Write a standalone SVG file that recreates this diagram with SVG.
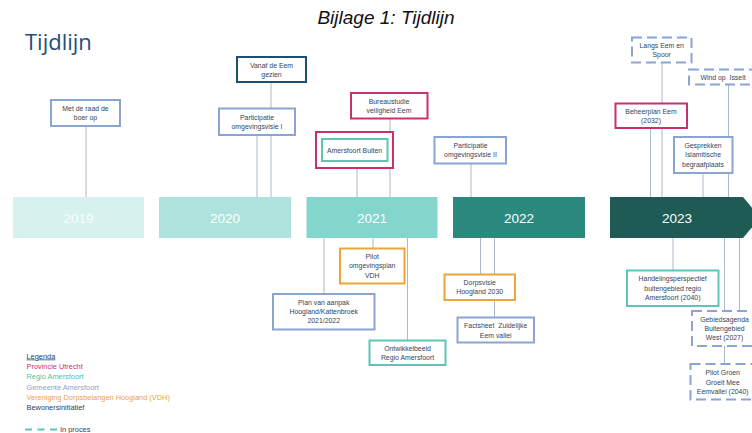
<svg xmlns="http://www.w3.org/2000/svg" width="752" height="433" viewBox="0 0 752 433">
<style>
.bg{fill:#ffffff}
.box{fill:#ffffff;stroke-width:2}
.gem{stroke:#8aa4d4}
.prov{stroke:#c8306e}
.reg{stroke:#5ec4b6}
.vdh{stroke:#eba63a}
.bew{stroke:#1f4e6e}
.dash{stroke-dasharray:10 5}
.t{font-family:"Liberation Sans",Arial,sans-serif;font-size:6.9px;fill:#33445a;text-anchor:middle}
.yr{font-family:"Liberation Sans",Arial,sans-serif;font-size:13.5px;fill:#ffffff;text-anchor:middle}
.lg{font-family:"Liberation Sans",Arial,sans-serif;font-size:7.4px}
.con line{stroke:#aab8c8;stroke-width:1}
</style>
<rect class="bg" x="0" y="0" width="752" height="433"/>
<text x="386" y="24" font-family="Liberation Sans, Arial, sans-serif" font-size="19" font-style="italic" fill="#111111" text-anchor="middle">Bijlage 1: Tijdlijn</text>
<text x="25" y="50" font-family="Open Sans, sans-serif" font-size="22" fill="#1f4e79">Tijdlijn</text>

<g id="connectors" class="con">
<line x1="86" y1="126" x2="86" y2="197"/>
<line x1="271" y1="83" x2="271" y2="197"/>
<line x1="257" y1="135" x2="257" y2="197"/>
<line x1="390" y1="118" x2="390" y2="197"/>
<line x1="357" y1="168" x2="357" y2="197"/>
<line x1="471" y1="163" x2="471" y2="197"/>
<line x1="662" y1="62" x2="662" y2="197"/>
<line x1="650.5" y1="128" x2="650.5" y2="197"/>
<line x1="728.5" y1="84" x2="728.5" y2="197"/>
<line x1="703" y1="173" x2="703" y2="197"/>
<line x1="373" y1="238" x2="373" y2="248"/>
<line x1="324" y1="238" x2="324" y2="294"/>
<line x1="407.5" y1="238" x2="407.5" y2="340"/>
<line x1="480.5" y1="238" x2="480.5" y2="274"/>
<line x1="494.5" y1="238" x2="494.5" y2="317"/>
<line x1="673" y1="238" x2="673" y2="270"/>
<line x1="724.5" y1="238" x2="724.5" y2="364"/>
<line x1="739.5" y1="238" x2="739.5" y2="311"/>
</g>

<g id="year-2019"><rect x="13" y="197" width="131" height="41" fill="#d6f1ee"/><text class="yr" x="78.5" y="222.5" fill-opacity="0.9">2019</text></g>
<g id="year-2020"><rect x="159" y="197" width="132" height="41" fill="#ade3dc"/><text class="yr" x="225" y="222.5">2020</text></g>
<g id="year-2021"><rect x="306.5" y="197" width="131" height="41" fill="#82d6cc"/><text class="yr" x="372" y="222.5">2021</text></g>
<g id="year-2022"><rect x="453" y="197" width="132" height="41" fill="#2b897e"/><text class="yr" x="519" y="222.5">2022</text></g>
<g id="year-2023"><polygon points="610,197 743,197 760,217.5 743,238 610,238" fill="#1e5b54"/><text class="yr" x="677" y="222.5">2023</text></g>

<g id="met-de-raad"><rect class="box gem" x="51" y="100" width="69" height="26"/><text class="t" x="85.5" y="110.5">Met de raad de</text><text class="t" x="85.5" y="120">boer op</text></g>
<g id="vanaf-de-eem"><rect class="box bew" x="237" y="57" width="69" height="25"/><text class="t" x="271.5" y="67.5">Vanaf de Eem</text><text class="t" x="271.5" y="76.5">gezien</text></g>
<g id="participatie-1"><rect class="box gem" x="219" y="108.5" width="76" height="26.5"/><text class="t" x="257" y="119.5">Participatie</text><text class="t" x="257" y="129">omgevingsvisie I</text></g>
<g id="bureaustudie"><rect class="box prov" x="351" y="93" width="76.5" height="25.5"/><text class="t" x="389" y="103.5">Bureaustudie</text><text class="t" x="389" y="113">veiligheid Eem</text></g>
<g id="amersfoort-buiten"><rect class="box prov" x="316" y="132" width="77" height="36"/><rect class="box reg" x="322" y="139" width="65.5" height="22"/><text class="t" x="354.5" y="152.5">Amersfoort Buiten</text></g>
<g id="participatie-2"><rect class="box gem" x="434.5" y="137" width="71.5" height="26.5"/><text class="t" x="470.5" y="148">Participatie</text><text class="t" x="470.5" y="157">omgevingsvisie II</text></g>
<g id="langs-eem"><rect class="box gem dash" x="632" y="37.5" width="59.5" height="25"/><text class="t" x="661.7" y="47.5">Langs Eem en</text><text class="t" x="661.7" y="56.5">Spoor</text></g>
<g id="wind-op-isselt"><rect class="box gem dash" x="689" y="69.5" width="68" height="15"/><text class="t" x="723" y="79.8" xml:space="preserve">Wind op  Isselt</text></g>
<g id="beheerplan-eem"><rect class="box prov" x="615.5" y="103.5" width="71.5" height="24.5"/><text class="t" x="651" y="114">Beheerplan Eem</text><text class="t" x="651" y="123">(2032)</text></g>
<g id="gesprekken"><rect class="box gem" x="674" y="137" width="58.5" height="36"/><text class="t" x="703" y="147.5">Gesprekken</text><text class="t" x="703" y="157">Islamitische</text><text class="t" x="703" y="166.5">begraafplaats</text></g>

<g id="pilot-omgevingsplan"><rect class="box vdh" x="340" y="248.5" width="64.5" height="35"/><text class="t" x="372.2" y="258.5">Pilot</text><text class="t" x="372.2" y="268">omgevingsplan</text><text class="t" x="372.2" y="277.5">VDH</text></g>
<g id="plan-van-aanpak"><rect class="box gem" x="273" y="294" width="101.5" height="35.5"/><text class="t" x="323.7" y="305">Plan van aanpak</text><text class="t" x="323.7" y="314">Hoogland/Kattenbroek</text><text class="t" x="323.7" y="323">2021/2022</text></g>
<g id="ontwikkelbeeld"><rect class="box reg" x="369.5" y="340.5" width="76" height="24.5"/><text class="t" x="407.5" y="350.8">Ontwikkelbeeld</text><text class="t" x="407.5" y="360">Regio Amersfoort</text></g>
<g id="dorpsvisie"><rect class="box vdh" x="444.5" y="274.5" width="70.5" height="25.5"/><text class="t" x="479.7" y="284.7">Dorpsvisie</text><text class="t" x="479.7" y="293.7">Hoogland 2030</text></g>
<g id="factsheet"><rect class="box gem" x="457.5" y="317.5" width="76.5" height="25"/><text class="t" x="495.7" y="328" xml:space="preserve">Factsheet  Zuidelijke</text><text class="t" x="495.7" y="337.7">Eem vallei</text></g>
<g id="handelingsperspectief"><rect class="box reg" x="627" y="270.5" width="91.5" height="35.5"/><text class="t" x="672.7" y="281">Handelingsperspectief</text><text class="t" x="672.7" y="290.5">buitengebied regio</text><text class="t" x="672.7" y="300">Amersfoort (2040)</text></g>
<g id="gebiedsagenda"><rect class="box gem dash" x="692" y="311" width="65" height="35"/><text class="t" x="724.5" y="321.7">Gebiedsagenda</text><text class="t" x="724.5" y="331">Buitengebied</text><text class="t" x="724.5" y="340">West (2027)</text></g>
<g id="pilot-groen"><rect class="box gem dash" x="690.5" y="364" width="65" height="35.5"/><text class="t" x="722.7" y="375">Pilot Groen</text><text class="t" x="722.7" y="384.7">Groeit Mee</text><text class="t" x="722.7" y="393.7">Eemvallei (2040)</text></g>

<g id="legend" class="lg">
<text x="26.5" y="358.5" fill="#1f3f5f" text-decoration="underline">Legenda</text>
<text x="26.5" y="368.5" fill="#c8326f">Provincie Utrecht</text>
<text x="26.5" y="379" fill="#4dbfb0">Regio Amersfoort</text>
<text x="26.5" y="389.5" fill="#8aa4d0">Gemeente Amersfoort</text>
<text x="26.5" y="400" fill="#eaa43a">Vereniging Dorpsbelangen Hoogland (VDH)</text>
<text x="26.5" y="410" fill="#1f3f5f">Bewonersinitiatief</text>
<line x1="25" y1="429.5" x2="57" y2="429.5" stroke="#5ec4b6" stroke-width="2" stroke-dasharray="7 5.5"/>
<text x="60" y="432" fill="#1f3f5f">In proces</text>
</g>
</svg>
